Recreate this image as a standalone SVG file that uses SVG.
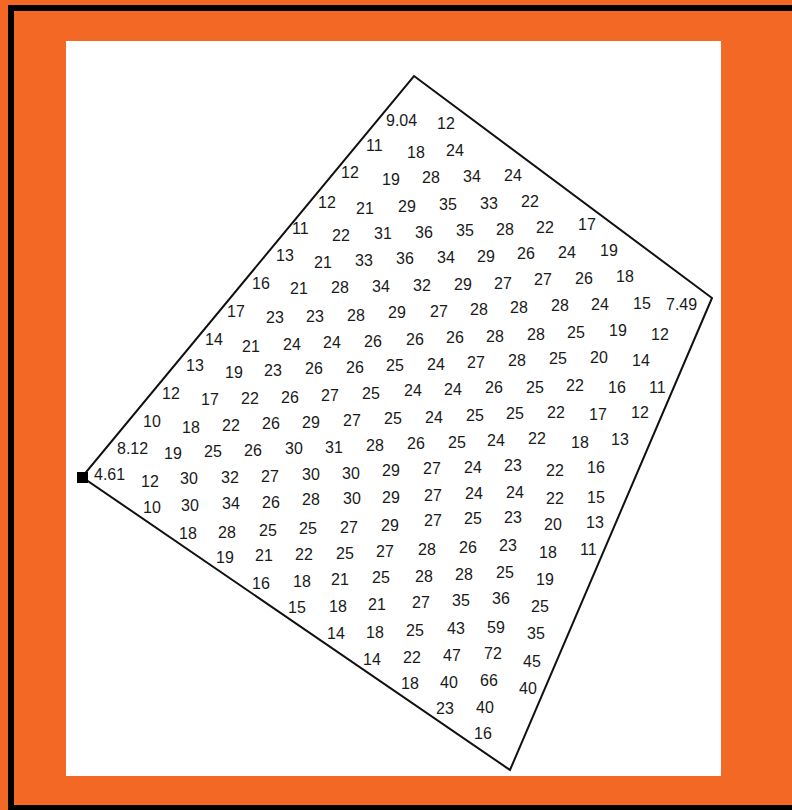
<svg xmlns="http://www.w3.org/2000/svg" width="792" height="810" viewBox="0 0 792 810">
<style>
.n{font-family:"Liberation Sans",Arial,sans-serif;font-size:16px;fill:#1a1a1a}
</style>
<rect x="0" y="0" width="792" height="810" fill="#F26824"/>
<rect x="11" y="8" width="800" height="800" fill="none" stroke="#000" stroke-width="6"/>
<rect x="66" y="41" width="655" height="735" fill="#fff"/>
<g id="outline">
<polygon points="414,76 712,298 510,770 82,477" fill="none" stroke="#111" stroke-width="2"/>
<rect x="77" y="472" width="11" height="11" fill="#000"/>
</g>
<g id="values">
<text class="n" x="386" y="126">9.04</text><text class="n" x="437" y="129">12</text>
<text class="n" x="366" y="151">11</text><text class="n" x="407" y="158">18</text><text class="n" x="446" y="156">24</text>
<text class="n" x="341" y="178">12</text><text class="n" x="382" y="185">19</text><text class="n" x="422" y="183">28</text><text class="n" x="463" y="182">34</text><text class="n" x="504" y="181">24</text>
<text class="n" x="318" y="208">12</text><text class="n" x="356" y="214">21</text><text class="n" x="398" y="212">29</text><text class="n" x="439" y="210">35</text><text class="n" x="480" y="209">33</text><text class="n" x="521" y="207">22</text>
<text class="n" x="292" y="234">11</text><text class="n" x="332" y="241">22</text><text class="n" x="374" y="239">31</text><text class="n" x="415" y="238">36</text><text class="n" x="456" y="236">35</text><text class="n" x="496" y="235">28</text><text class="n" x="536" y="233">22</text><text class="n" x="578" y="230">17</text>
<text class="n" x="276" y="261">13</text><text class="n" x="314" y="268">21</text><text class="n" x="355" y="266">33</text><text class="n" x="396" y="264">36</text><text class="n" x="437" y="263">34</text><text class="n" x="477" y="262">29</text><text class="n" x="517" y="259">26</text><text class="n" x="558" y="258">24</text><text class="n" x="600" y="256">19</text>
<text class="n" x="252" y="289">16</text><text class="n" x="290" y="294">21</text><text class="n" x="331" y="293">28</text><text class="n" x="372" y="292">34</text><text class="n" x="413" y="291">32</text><text class="n" x="454" y="290">29</text><text class="n" x="494" y="289">27</text><text class="n" x="534" y="285">27</text><text class="n" x="575" y="284">26</text><text class="n" x="616" y="282">18</text>
<text class="n" x="227" y="317">17</text><text class="n" x="266" y="323">23</text><text class="n" x="306" y="322">23</text><text class="n" x="347" y="321">28</text><text class="n" x="388" y="318">29</text><text class="n" x="430" y="317">27</text><text class="n" x="470" y="315">28</text><text class="n" x="510" y="313">28</text><text class="n" x="551" y="311">28</text><text class="n" x="591" y="310">24</text><text class="n" x="633" y="309">15</text><text class="n" x="666" y="310">7.49</text>
<text class="n" x="205" y="345">14</text><text class="n" x="242" y="352">21</text><text class="n" x="283" y="350">24</text><text class="n" x="323" y="348">24</text><text class="n" x="364" y="347">26</text><text class="n" x="406" y="345">26</text><text class="n" x="446" y="343">26</text><text class="n" x="486" y="342">28</text><text class="n" x="527" y="340">28</text><text class="n" x="567" y="338">25</text><text class="n" x="609" y="336">19</text><text class="n" x="651" y="340">12</text>
<text class="n" x="186" y="371">13</text><text class="n" x="225" y="378">19</text><text class="n" x="264" y="376">23</text><text class="n" x="305" y="374">26</text><text class="n" x="346" y="373">26</text><text class="n" x="386" y="371">25</text><text class="n" x="427" y="370">24</text><text class="n" x="467" y="368">27</text><text class="n" x="508" y="366">28</text><text class="n" x="549" y="364">25</text><text class="n" x="590" y="363">20</text><text class="n" x="632" y="366">14</text>
<text class="n" x="162" y="399">12</text><text class="n" x="201" y="405">17</text><text class="n" x="241" y="404">22</text><text class="n" x="281" y="403">26</text><text class="n" x="321" y="401">27</text><text class="n" x="362" y="399">25</text><text class="n" x="404" y="396">24</text><text class="n" x="444" y="395">24</text><text class="n" x="485" y="393">26</text><text class="n" x="526" y="393">25</text><text class="n" x="566" y="391">22</text><text class="n" x="608" y="393">16</text><text class="n" x="649" y="393">11</text>
<text class="n" x="143" y="427">10</text><text class="n" x="182" y="433">18</text><text class="n" x="222" y="431">22</text><text class="n" x="262" y="429">26</text><text class="n" x="302" y="428">29</text><text class="n" x="343" y="426">27</text><text class="n" x="384" y="424">25</text><text class="n" x="425" y="423">24</text><text class="n" x="466" y="421">25</text><text class="n" x="506" y="419">25</text><text class="n" x="547" y="418">22</text><text class="n" x="589" y="420">17</text><text class="n" x="631" y="418">12</text>
<text class="n" x="117" y="454">8.12</text><text class="n" x="164" y="459">19</text><text class="n" x="204" y="457">25</text><text class="n" x="244" y="456">26</text><text class="n" x="285" y="454">30</text><text class="n" x="325" y="453">31</text><text class="n" x="366" y="451">28</text><text class="n" x="407" y="449">26</text><text class="n" x="448" y="448">25</text><text class="n" x="487" y="446">24</text><text class="n" x="528" y="444">22</text><text class="n" x="571" y="448">18</text><text class="n" x="611" y="445">13</text>
<text class="n" x="94" y="480">4.61</text><text class="n" x="141" y="487">12</text><text class="n" x="180" y="484">30</text><text class="n" x="221" y="483">32</text><text class="n" x="261" y="482">27</text><text class="n" x="302" y="480">30</text><text class="n" x="342" y="479">30</text><text class="n" x="382" y="476">29</text><text class="n" x="423" y="474">27</text><text class="n" x="464" y="473">24</text><text class="n" x="504" y="471">23</text><text class="n" x="546" y="476">22</text><text class="n" x="587" y="473">16</text>
<text class="n" x="143" y="513">10</text><text class="n" x="181" y="511">30</text><text class="n" x="222" y="509">34</text><text class="n" x="262" y="508">26</text><text class="n" x="302" y="505">28</text><text class="n" x="343" y="504">30</text><text class="n" x="382" y="503">29</text><text class="n" x="424" y="501">27</text><text class="n" x="465" y="499">24</text><text class="n" x="506" y="498">24</text><text class="n" x="546" y="504">22</text><text class="n" x="587" y="503">15</text>
<text class="n" x="179" y="539">18</text><text class="n" x="218" y="538">28</text><text class="n" x="259" y="536">25</text><text class="n" x="299" y="534">25</text><text class="n" x="340" y="533">27</text><text class="n" x="381" y="531">29</text><text class="n" x="424" y="526">27</text><text class="n" x="464" y="524">25</text><text class="n" x="504" y="523">23</text><text class="n" x="544" y="530">20</text><text class="n" x="586" y="528">13</text>
<text class="n" x="216" y="563">19</text><text class="n" x="255" y="561">21</text><text class="n" x="295" y="560">22</text><text class="n" x="336" y="559">25</text><text class="n" x="376" y="557">27</text><text class="n" x="418" y="555">28</text><text class="n" x="459" y="553">26</text><text class="n" x="499" y="551">23</text><text class="n" x="539" y="558">18</text><text class="n" x="580" y="555">11</text>
<text class="n" x="252" y="589">16</text><text class="n" x="293" y="587">18</text><text class="n" x="331" y="585">21</text><text class="n" x="372" y="583">25</text><text class="n" x="415" y="582">28</text><text class="n" x="455" y="580">28</text><text class="n" x="496" y="578">25</text><text class="n" x="536" y="585">19</text>
<text class="n" x="288" y="613">15</text><text class="n" x="329" y="612">18</text><text class="n" x="368" y="610">21</text><text class="n" x="412" y="608">27</text><text class="n" x="452" y="606">35</text><text class="n" x="492" y="604">36</text><text class="n" x="531" y="612">25</text>
<text class="n" x="327" y="639">14</text><text class="n" x="366" y="638">18</text><text class="n" x="406" y="636">25</text><text class="n" x="447" y="634">43</text><text class="n" x="487" y="633">59</text><text class="n" x="527" y="639">35</text>
<text class="n" x="363" y="665">14</text><text class="n" x="403" y="663">22</text><text class="n" x="443" y="661">47</text><text class="n" x="484" y="659">72</text><text class="n" x="523" y="667">45</text>
<text class="n" x="401" y="689">18</text><text class="n" x="440" y="688">40</text><text class="n" x="480" y="686">66</text><text class="n" x="519" y="694">40</text>
<text class="n" x="436" y="714">23</text><text class="n" x="476" y="713">40</text>
<text class="n" x="474" y="739">16</text>
</g>
</svg>
